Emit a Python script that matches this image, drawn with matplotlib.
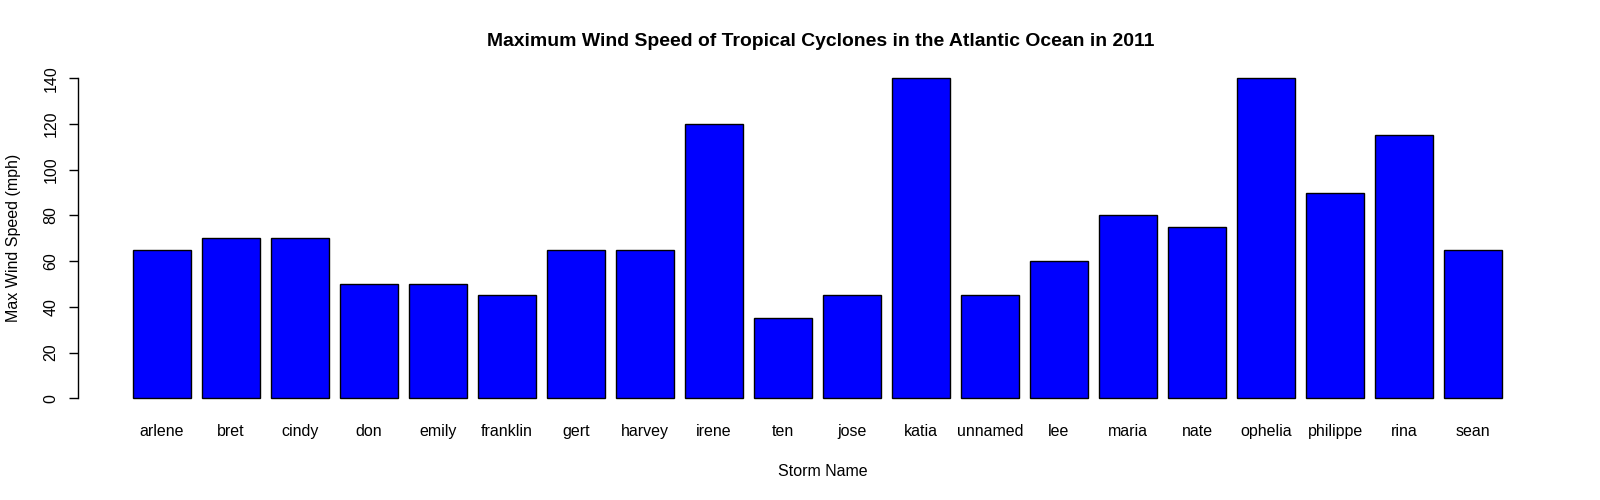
import matplotlib
matplotlib.use("Agg")
import matplotlib.pyplot as plt
import numpy as np

storms = ["arlene", "bret", "cindy", "don", "emily", "franklin", "gert", "harvey",
          "irene", "ten", "jose", "katia", "unnamed", "lee", "maria", "nate",
          "ophelia", "philippe", "rina", "sean"]
max_wind = [65, 70, 70, 50, 50, 45, 65, 65, 120, 35, 45, 140, 45, 60, 80, 75,
            140, 90, 115, 65]
y_ticks = [0, 20, 40, 60, 80, 100, 120, 140]

plt.rcParams['font.family'] = ['Liberation Sans', 'DejaVu Sans']

fig = plt.figure(figsize=(16, 5), dpi=100)
left, right = 78.1 / 1600, 1568.5 / 1600
bottom, top = (500 - 411.1) / 500, (500 - 65.5) / 500
ax = fig.add_axes([left, bottom, right - left, top - bottom])

# R barplot geometry: width 1, space 0.2
n = len(storms)
centers = 0.7 + 1.2 * np.arange(n)
ax.bar(centers, max_wind, width=1.0, color="#0000FF", edgecolor="black", linewidth=1.0)

ax.set_xlim(-0.76, 25.16)
ax.set_ylim(-5.6, 145.6)

for s in ['top', 'right', 'bottom']:
    ax.spines[s].set_visible(False)
ax.spines['left'].set_bounds(0, 140)
ax.spines['left'].set_linewidth(1.0)

ax.set_xticks(centers)
ax.set_xticklabels(storms, fontsize=11.5)
ax.tick_params(axis='x', length=0, pad=9.5)

ax.set_yticks(y_ticks)
ax.set_yticklabels([str(v) for v in y_ticks], fontsize=11.5, rotation=90, va='center')
ax.tick_params(axis='y', length=6.5, width=1.0, pad=7.5)

ax.text(0.5, (411.1 - 472) / 345.6, "Storm Name", transform=ax.transAxes,
        ha='center', va='center', fontsize=11.5)
ax.text((14 - 78.1) / 1490.4, 0.5, "Max Wind Speed (mph)", transform=ax.transAxes,
        ha='center', va='center', rotation=90, fontsize=11.5)
fig.text((left + right) / 2 - 3 / 1600, 1 - 42 / 500,
         "Maximum Wind Speed of Tropical Cyclones in the Atlantic Ocean in 2011",
         ha='center', va='center', fontsize=13.95, fontweight='bold')

fig.savefig("out.png", dpi=100, facecolor="white")
